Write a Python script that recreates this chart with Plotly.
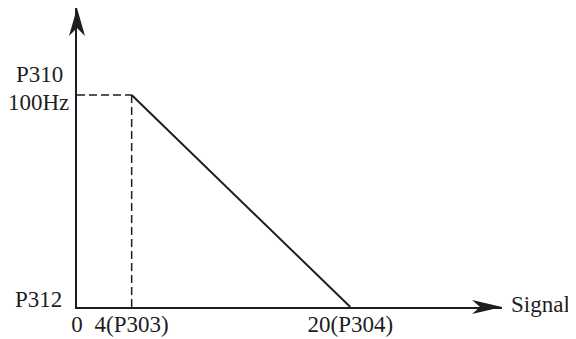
import plotly.graph_objects as go

# schematic: output frequency vs. analog input signal
signal_ticks = [0, 4, 20]
signal_tick_labels = ["0", "4(P303)", "20(P304)"]
curve_signal = [4, 20]
curve_freq = [100, 0]
freq_max = 100  # P310 / 100Hz
freq_min = 0  # P312

INK = "#1e1e1e"
FONT = {"family": "Liberation Serif, Times New Roman, serif", "size": 23, "color": INK}

fig = go.Figure()
# dashed guides to the break point
fig.add_trace(
    go.Scatter(
        x=[signal_ticks[0], curve_signal[0]],
        y=[freq_max, freq_max],
        mode="lines",
        line={"color": INK, "width": 1.5, "dash": "8px,4px"},
        hoverinfo="skip",
    )
)
fig.add_trace(
    go.Scatter(
        x=[curve_signal[0], curve_signal[0]],
        y=[freq_min, freq_max],
        mode="lines",
        line={"color": INK, "width": 1.5, "dash": "8px,4px"},
        hoverinfo="skip",
    )
)
fig.add_trace(
    go.Scatter(
        x=curve_signal,
        y=curve_freq,
        mode="lines",
        line={"color": INK, "width": 2},
    )
)

# arrowheads at the axis ends
fig.add_shape(
    type="path",
    xref="paper", yref="paper",
    xsizemode="pixel", ysizemode="pixel",
    xanchor=1, yanchor=0,
    path="M-30,-7 L0,0 L-30,7 L-22,0 Z",
    fillcolor=INK, line={"width": 0},
)
fig.add_shape(
    type="path",
    xref="paper", yref="paper",
    xsizemode="pixel", ysizemode="pixel",
    xanchor=0, yanchor=1,
    path="M-8,-28 L0,0 L8,-28 L0,-20 Z",
    fillcolor=INK, line={"width": 0},
)

for text, y, shift, xs in (("P312", freq_min, 8, -13), ("100Hz", freq_max, -8, -6), ("P310", freq_max, 20, -12)):
    fig.add_annotation(
        text=text, x=0, xref="paper", y=y, yref="y",
        xanchor="right", yanchor="middle", xshift=xs, yshift=shift,
        showarrow=False, font=FONT,
    )
fig.add_annotation(
    text="Signal", x=1, xref="paper", y=freq_min, yref="y",
    xanchor="left", yanchor="middle", xshift=7, yshift=3,
    showarrow=False, font=FONT,
)

# page body adds an 8px offset, so margins are shifted back by 8px
fig.update_layout(
    width=576,
    height=339,
    margin={"l": 69, "r": 82, "t": 0, "b": 40},
    paper_bgcolor="white",
    plot_bgcolor="white",
    showlegend=False,
    font=FONT,
    xaxis={
        "range": [0, 31.1],
        "tickvals": signal_ticks,
        "ticktext": signal_tick_labels,
        "showgrid": False,
        "zeroline": False,
        "showline": True,
        "linecolor": INK,
        "linewidth": 2,
        "ticks": "",
        "ticklabelstandoff": -5,
        "tickfont": FONT,
    },
    yaxis={
        "range": [0, 141],
        "showticklabels": False,
        "showgrid": False,
        "zeroline": False,
        "showline": True,
        "linecolor": INK,
        "linewidth": 2,
        "ticks": "",
    },
)

fig.write_html("out.html")
